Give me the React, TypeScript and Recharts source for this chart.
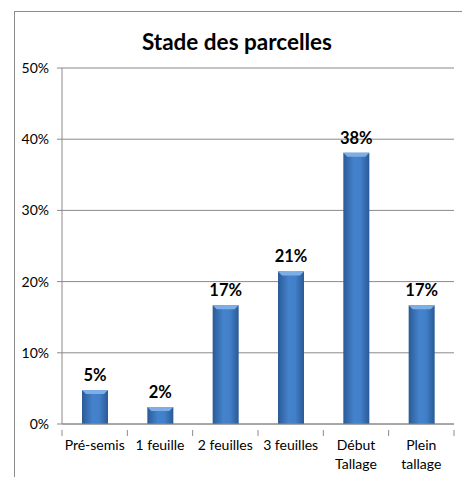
import React from 'react'
import { BarChart, Bar, XAxis, YAxis, CartesianGrid, LabelList } from 'recharts'

const categories = ['Pré-semis', '1 feuille', '2 feuilles', '3 feuilles', 'Début\nTallage', 'Plein\ntallage']
const shares = [4.76, 2.38, 16.67, 21.43, 38.1, 16.67]
const yTicks = [0, 10, 20, 30, 40, 50]

const data = categories.map((name, i) => ({ name, value: shares[i] }))

const W = 462
const H = 477
const FONT = 'Lato, "Open Sans", sans-serif'
const GRID = '#8a8a8a'
const PLOT_W = 392

const BevelBar = (props: any) => {
  const { x, y, width, height } = props
  if (!height || height <= 0) return null
  const b = Math.min(4, height / 2)
  return (
    <g>
      <rect x={x} y={y} width={width} height={height} fill="url(#barGrad)" />
      <polygon
        points={`${x},${y} ${x + width},${y} ${x + width - b},${y + b} ${x + b},${y + b}`}
        fill="#7eaee6"
      />
    </g>
  )
}

const CatTick = (props: any) => {
  const { x, y, payload, index } = props
  const band = PLOT_W / categories.length
  const lines = String(payload.value).split('\n')
  return (
    <g>
      <line x1={x - band / 2} x2={x - band / 2} y1={y - 2} y2={y + 4} stroke={GRID} />
      {index === categories.length - 1 && (
        <line x1={x + band / 2} x2={x + band / 2} y1={y - 2} y2={y + 4} stroke={GRID} />
      )}
      <text textAnchor="middle" fontFamily={FONT} fontSize={14} fill="#000">
        {lines.map((l, i) => (
          <tspan key={i} x={x} y={y + 18 + i * 19}>
            {l}
          </tspan>
        ))}
      </text>
    </g>
  )
}

export default function App() {
  return (
    <div style={{ position: 'absolute', left: 0, top: 0, width: W, height: H, overflow: 'hidden', background: '#fff' }}>
      <div
        style={{
          position: 'absolute',
          left: 14,
          top: 11,
          width: 480,
          height: 500,
          border: '1px solid #8c8c8c',
        }}
      />
      <div
        style={{
          position: 'absolute',
          left: 0,
          top: 28,
          width: 474,
          textAlign: 'center',
          fontFamily: FONT,
          fontWeight: 700,
          fontSize: 22.5,
          color: '#000',
        }}
      >
        Stade des parcelles
      </div>
      <div style={{ position: 'absolute', left: 0, top: 0 }}>
        <BarChart
          width={W}
          height={H}
          data={data}
          margin={{ top: 68, right: 8, bottom: 0, left: 0 }}
          barSize={26}
        >
          <defs>
            <linearGradient id="barGrad" x1="0" y1="0" x2="1" y2="0">
              <stop offset="0%" stopColor="#2a5a96" />
              <stop offset="40%" stopColor="#4482cb" />
              <stop offset="65%" stopColor="#4281ca" />
              <stop offset="100%" stopColor="#2a5a96" />
            </linearGradient>
          </defs>
          <CartesianGrid vertical={false} stroke={GRID} />
          <XAxis
            dataKey="name"
            height={53}
            interval={0}
            tickLine={false}
            axisLine={{ stroke: GRID }}
            tick={<CatTick />}
          />
          <YAxis
            width={62}
            domain={[0, 50]}
            ticks={yTicks}
            tickFormatter={(v: number) => `${v}%`}
            tickSize={5}
            tickMargin={8}
            axisLine={{ stroke: GRID }}
            tickLine={{ stroke: GRID }}
            tick={{ fontFamily: FONT, fontSize: 14, fill: '#000' }}
          />
          <Bar dataKey="value" shape={<BevelBar />} isAnimationActive={false}>
            <LabelList
              dataKey="value"
              position="top"
              offset={9}
              formatter={(v: any) => `${Math.round(Number(v))}%`}
              style={{ fontFamily: FONT, fontWeight: 700, fontSize: 16.5, fill: '#000' }}
            />
          </Bar>
        </BarChart>
      </div>
    </div>
  )
}
